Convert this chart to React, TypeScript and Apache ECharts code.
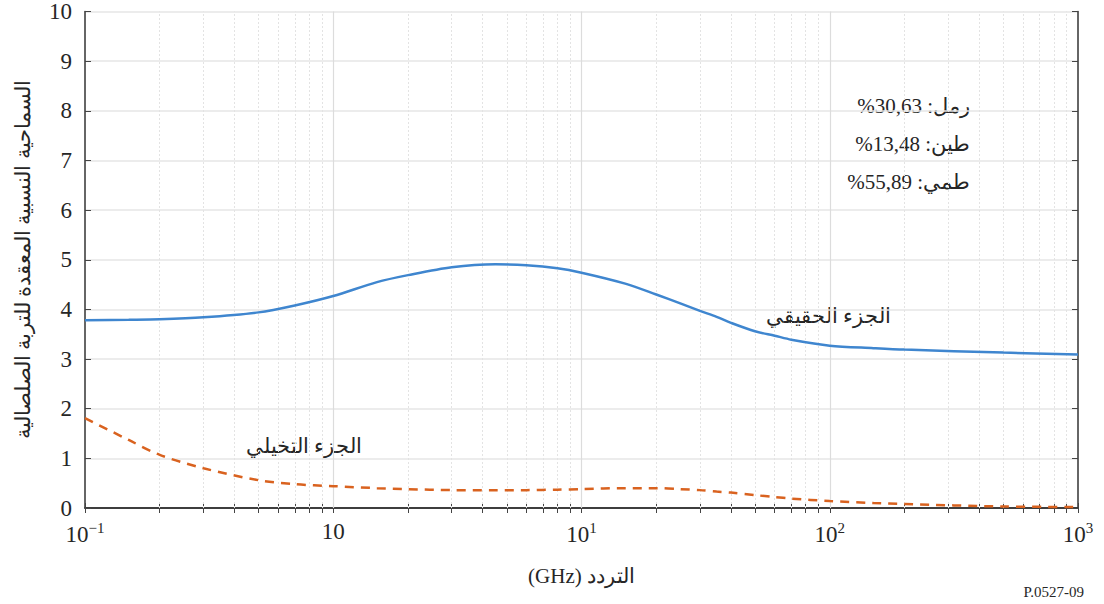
import React, { useEffect, useRef } from "react";
import * as echarts from "echarts";

const freqGHz = [0.1, 0.15, 0.2, 0.3, 0.5, 0.7, 1, 1.5, 2, 3, 4.5, 6, 8, 10, 15, 20, 25, 30, 35, 40, 50, 60, 70, 100, 150, 200, 500, 1000];
const realPart = [3.78, 3.79, 3.8, 3.84, 3.94, 4.08, 4.27, 4.55, 4.69, 4.85, 4.91, 4.89, 4.83, 4.74, 4.52, 4.3, 4.12, 3.97, 3.85, 3.73, 3.56, 3.47, 3.39, 3.27, 3.22, 3.19, 3.13, 3.09];
const imagPart = [1.81, 1.37, 1.07, 0.8, 0.56, 0.48, 0.44, 0.4, 0.38, 0.36, 0.36, 0.36, 0.37, 0.38, 0.4, 0.4, 0.38, 0.36, 0.33, 0.31, 0.26, 0.22, 0.19, 0.14, 0.1, 0.08, 0.03, 0.02];

const majorTicks = [0.1, 1, 10, 100, 1000];
const majorLabels = ["10{sup|−1}", "10", "10{sup|1}", "10{sup|2}", "10{sup|3}"];
const minorTicks = [0.1, 1, 10, 100].flatMap((d) => [2, 3, 4, 5, 6, 7, 8, 9].map((k) => +(k * d).toPrecision(3)));
const allTicks = [...majorTicks, ...minorTicks].sort((a, b) => a - b);

const soilLines = ["%30,63 :رمل", "%13,48 :طين", "%55,89 :طمي"];
const realLabel = "الجزء الحقيقي";
const imagLabel = "الجزء التخيلي";
const xTitle = "(GHz) التردد";
const yTitle = "السماحية النسبية المعقدة للتربة الصلصالية";
const figId = "P.0527-09";

const FONT = "Liberation Serif";
const TXT = "#262626";

export default function App() {
  const ref = useRef<HTMLDivElement>(null);
  useEffect(() => {
    if (!ref.current) return;
    const chart = echarts.init(ref.current, undefined, { renderer: "svg" });
    const realData = freqGHz.map((f, i) => [f, realPart[i]]);
    const imagData = freqGHz.map((f, i) => [f, imagPart[i]]);
    const fmt = (v: number) => {
      const e = Math.round(Math.log10(v));
      const idx = majorTicks.findIndex((m) => Math.round(Math.log10(m)) === e);
      return idx >= 0 ? majorLabels[idx] : "";
    };
    chart.setOption({
      animation: false,
      textStyle: { fontFamily: FONT },
      grid: { left: 85, right: 26, top: 10, bottom: 96, containLabel: false },
      xAxis: [
        {
          type: "log",
          logBase: 10,
          min: 0.1,
          max: 1000,
          position: "bottom",
          name: xTitle,
          nameLocation: "middle",
          nameGap: 57,
          nameTextStyle: { fontSize: 21, color: TXT, fontFamily: FONT },
          axisLine: { show: true, lineStyle: { color: "#333", width: 1.5 } },
          axisTick: { show: true, inside: true, length: 5, customValues: allTicks, lineStyle: { color: "#444", width: 1 } },
          axisLabel: {
            show: true,
            customValues: majorTicks,
            formatter: fmt,
            margin: 12,
            color: TXT,
            fontSize: 23,
            fontFamily: FONT,
            rich: { sup: { fontSize: 15, verticalAlign: "top", padding: [0, 0, 14, 0], color: TXT, fontFamily: FONT } },
          },
          splitLine: { show: false },
        },
        {
          type: "log",
          logBase: 10,
          min: 0.1,
          max: 1000,
          position: "top",
          axisLine: { show: true, lineStyle: { color: "#333", width: 1.5 } },
          axisTick: { show: true, inside: true, length: 5, customValues: allTicks, lineStyle: { color: "#444", width: 1 } },
          axisLabel: { show: false },
          splitLine: { show: false },
        },
      ],
      yAxis: [
        {
          type: "value",
          min: 0,
          max: 10,
          interval: 1,
          position: "left",
          name: yTitle,
          nameLocation: "middle",
          nameGap: 52,
          nameTextStyle: { fontSize: 21, color: TXT, fontFamily: FONT },
          axisLine: { show: true, lineStyle: { color: "#333", width: 1.5 } },
          axisTick: { show: true, inside: true, length: 6, lineStyle: { color: "#444" } },
          axisLabel: { color: TXT, fontSize: 23, fontFamily: FONT, margin: 13 },
          splitLine: { show: true, lineStyle: { color: "#e6e6e6", width: 1.5 } },
        },
        {
          type: "value",
          min: 0,
          max: 10,
          interval: 1,
          position: "right",
          axisLine: { show: true, lineStyle: { color: "#333", width: 1.5 } },
          axisTick: { show: true, inside: true, length: 6, lineStyle: { color: "#444" } },
          axisLabel: { show: false },
          splitLine: { show: false },
        },
      ],
      series: [
        {
          type: "line",
          name: "real",
          xAxisIndex: 0,
          yAxisIndex: 0,
          data: realData,
          showSymbol: false,
          smooth: 0.3,
          lineStyle: { color: "#3f86cf", width: 2.5 },
          z: 5,
          markLine: {
            silent: true,
            symbol: "none",
            label: { show: false },
            z: 1,
            data: [
              ...majorTicks.slice(1, 4).map((v) => ({ xAxis: v, lineStyle: { color: "#dcdcdc", width: 1.2, type: "solid" } })),
              ...minorTicks.map((v) => ({ xAxis: v, lineStyle: { color: "#e3e3e3", width: 1, type: [2, 2] } })),
            ],
          },
        },
        {
          type: "line",
          name: "imag",
          xAxisIndex: 0,
          yAxisIndex: 0,
          data: imagData,
          showSymbol: false,
          smooth: 0.3,
          lineStyle: { color: "#d9621f", width: 2.5, type: [9, 7] },
          z: 5,
        },
      ],
      graphic: [
        ...soilLines.map((t, i) => ({
          type: "text",
          right: 134,
          top: 95 + i * 38,
          style: { text: t, fontSize: 21, fill: TXT, fontFamily: FONT },
        })),
        { type: "text", left: 766, top: 305, style: { text: realLabel, fontSize: 21, fill: TXT, fontFamily: FONT } },
        { type: "text", left: 246, top: 435, style: { text: imagLabel, fontSize: 21, fill: TXT, fontFamily: FONT } },
        { type: "text", right: 20, top: 584, style: { text: figId, fontSize: 15, fill: TXT, fontFamily: FONT } },
      ],
    });
    return () => chart.dispose();
  }, []);
  return <div ref={ref} style={{ width: 1104, height: 604, position: "absolute", left: 0, top: 0 }} />;
}
